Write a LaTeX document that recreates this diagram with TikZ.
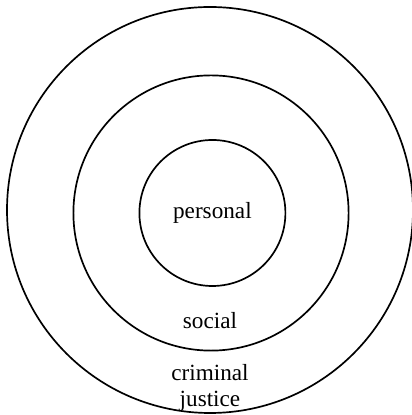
\documentclass[tikz,border=0pt]{standalone}
\usepackage{fontspec}
\setmainfont{Liberation Serif}
\usepackage{tikz}
\usetikzlibrary{positioning}

\begin{document}
\begin{tikzpicture}[
    ring/.style={circle, draw=black, line width=1.2pt, inner sep=0pt},
    label/.style={font=\fontsize{16.5}{18}\selectfont, align=center, inner sep=0pt}
]
\useasboundingbox (0,0) rectangle (10.275,10.375);

% Rings
\node[ring, minimum size=10.15cm] (outer) at (5.25, 5.125) {};
\node[ring, minimum size=6.88cm] (middle) at (5.275, 5.05) {};
\node[ring, minimum size=3.65cm] (inner) at (5.31, 5.05) {};

% Labels
\node[label] (personal) at (inner) {personal};
\node[label] (social) at (5.25, 2.35) {social};
\node[label] (criminal) at (5.25, 0.68) {criminal\\justice};

\end{tikzpicture}
\end{document}
